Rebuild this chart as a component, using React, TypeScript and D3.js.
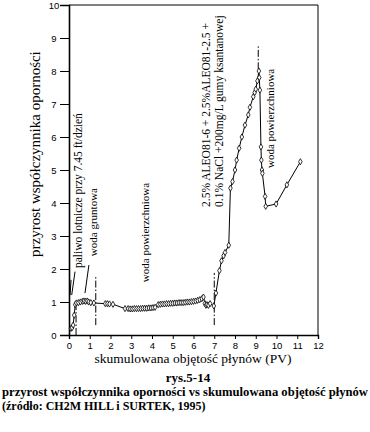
import * as d3 from 'd3'
import React from 'react'

// axis ticks
const pvTicks = [0, 1, 2, 3, 4, 5, 6, 7, 8, 9, 10, 11, 12]
const rfTicks = [0, 1, 2, 3, 4, 5, 6, 7, 8, 9, 10]

// phase 1: jet fuel
const jetFuelPV = [0.1, 0.15, 0.2, 0.25, 0.3, 0.35, 0.45, 0.55, 0.65, 0.72, 0.8, 0.88, 0.95, 1.05]
const jetFuelRF = [0.2, 0.22, 0.3, 0.6, 0.92, 0.97, 0.98, 1.0, 1.02, 1.03, 1.02, 1.03, 1.0, 0.98]
// phase 2: groundwater
const groundPV = [1.2, 1.75, 1.85, 1.95]
const groundRF = [0.97, 0.95, 0.95, 0.94]
// phase 3: surface water
const surface1PV = [2.12, 2.7, 2.85, 2.95, 3.05, 3.15, 3.25, 3.35, 3.45, 3.55, 3.65, 3.75, 3.85, 3.95, 4.05, 4.15,
    4.3, 4.4, 4.5, 4.6, 4.7, 4.8, 4.9, 5.0, 5.1, 5.2, 5.3, 5.4, 5.5, 5.6, 5.7, 5.8, 5.9, 6.0, 6.1, 6.2, 6.3, 6.4,
    6.48, 6.55, 6.6, 6.65, 6.72, 6.8, 6.98]
const surface1RF = [0.93, 0.8, 0.8, 0.79, 0.79, 0.8, 0.8, 0.8, 0.8, 0.81, 0.81, 0.81, 0.82, 0.82, 0.83, 0.84,
    0.92, 0.93, 0.94, 0.94, 0.95, 0.95, 0.96, 0.96, 0.97, 0.97, 0.98, 0.98, 0.98, 0.99, 1.0, 1.0, 1.01, 1.02, 1.03, 1.05, 1.07, 1.1,
    1.15, 0.95, 0.9, 0.92, 0.9, 0.95, 0.88]
// phase 4: polymer
const polymerPV = [7.08, 7.25, 7.35, 7.45, 7.52, 7.7, 7.78, 7.88, 8.0, 8.08, 8.2, 8.33, 8.48, 8.64, 8.72, 8.88, 8.95, 9.0, 9.08, 9.15]
const polymerRF = [1.27, 1.95, 2.25, 2.4, 2.5, 2.72, 4.45, 4.65, 5.0, 5.3, 5.66, 6.0, 6.36, 6.67, 6.9, 7.22, 7.35, 7.45, 7.7, 8.0]
// phase 5: surface water again
const surface2PV = [9.17, 9.2, 9.25, 9.27, 9.3, 9.32, 9.45, 9.48, 9.98, 10.5, 11.15]
const surface2RF = [7.8, 7.42, 5.7, 5.3, 5.0, 4.9, 4.2, 3.9, 3.97, 4.55, 5.25]

// dash-dot phase boundaries [pv, rfFrom, rfTo]
const boundaries = [[0.34, 0, 0.95], [1.29, 0.3, 1.8], [7.0, 0.3, 1.88], [9.12, 8.05, 8.8]]
// leader lines [pv1, rf1, pv2, rf2]
const leaders = [[0.05, 1.21, 0.1, 1.67], [0.13, 1.21, 0.29, 1.92], [0.77, 1.27, 0.96, 2.12]]

// rotated labels [text, pv, rf]
const labelTexts = ["paliwo lotnicze przy 7.45 ft/dzień", "woda gruntowa", "woda powierzchniowa",
    "2.5% ALEO81-6 + 2.5%ALEO81-2.5 +", "0.1% NaCl +200mg/L gumy ksantanowej", "woda powierzchniowa"]
const labelPV = [0.63, 1.33, 3.86, 6.8, 7.42, 9.88]
const labelRF = [2.03, 2.39, 1.6, 3.88, 3.88, 5.06]

export default function App(){
    const ref = React.useRef<SVGSVGElement>(null)

    React.useEffect(()=>{
        drawChart()
    }, [])

    function drawChart(){
        const svg = d3.select(ref.current)
        svg.selectAll("*").remove()

        const serif = "'Liberation Serif', 'Times New Roman', serif"
        const sans = "'Liberation Sans', Arial, sans-serif"

        const x = d3.scaleLinear().domain([0, 12]).range([69, 318])
        const y = d3.scaleLinear().domain([0, 10]).range([335, 5])

        svg.append("rect").attr("width", 370).attr("height", 432).attr("fill", "#fff")

        // frame
        svg.append("line").attr("x1", x(0)).attr("x2", x(12)).attr("y1", y(10)).attr("y2", y(10))
            .attr("stroke", "#000").attr("stroke-width", 1)
        svg.append("line").attr("x1", x(12)).attr("x2", x(12)).attr("y1", y(10)).attr("y2", y(0))
            .attr("stroke", "#000").attr("stroke-width", 1)

        // y axis
        const yAxis = svg.append("g").attr("transform", `translate(${x(0)},0)`)
            .call(d3.axisLeft(y).tickValues(rfTicks).tickSize(9).tickFormat(d3.format("d")))
        yAxis.select(".domain").attr("stroke-width", 1.6)
        yAxis.selectAll("text").attr("text-anchor", "middle").attr("x", -15)
            .style("font-family", sans).style("font-size", "9.5px")

        // x axis
        const xAxis = svg.append("g").attr("transform", `translate(0,${y(0)})`)
            .call(d3.axisBottom(x).tickValues(pvTicks).tickSize(4).tickPadding(3).tickFormat(d3.format("d")))
        xAxis.select(".domain").attr("stroke-width", 1.4)
        xAxis.selectAll("text").style("font-family", sans).style("font-size", "9.5px")

        // boundaries
        svg.selectAll(".boundary").data(boundaries).enter().append("line")
            .attr("class", "boundary")
            .attr("x1", d => x(d[0])).attr("x2", d => x(d[0]))
            .attr("y1", d => y(d[1])).attr("y2", d => y(d[2]))
            .attr("stroke", "#000").attr("stroke-width", 1)
            .attr("stroke-dasharray", "7,2,1.5,2")

        svg.selectAll(".leader").data(leaders).enter().append("line")
            .attr("class", "leader")
            .attr("x1", d => x(d[0])).attr("y1", d => y(d[1]))
            .attr("x2", d => x(d[2])).attr("y2", d => y(d[3]))
            .attr("stroke", "#000").attr("stroke-width", 1)

        // series
        const pv = [...jetFuelPV, ...groundPV, ...surface1PV, ...polymerPV, ...surface2PV]
        const rf = [...jetFuelRF, ...groundRF, ...surface1RF, ...polymerRF, ...surface2RF]
        const pts: [number, number][] = pv.map((v, i) => [v, rf[i]])

        const line = d3.line<[number, number]>().x(d => x(d[0])).y(d => y(d[1]))
        svg.append("path").attr("d", line(pts)).attr("fill", "none")
            .attr("stroke", "#000").attr("stroke-width", 1)

        const sym = d3.symbol().type(d3.symbolDiamond).size(11)
        svg.selectAll(".pt").data(pts).enter().append("path")
            .attr("class", "pt")
            .attr("d", sym())
            .attr("transform", d => `translate(${x(d[0])},${y(d[1])})`)
            .attr("fill", "#fff").attr("stroke", "#000").attr("stroke-width", 0.8)

        // rotated labels
        const fontSizes = [11.5, 11, 11, 11.5, 11.5, 11]
        labelTexts.forEach((t, i) => {
            svg.append("text")
                .attr("transform", `translate(${x(labelPV[i])},${y(labelRF[i])}) rotate(-90)`)
                .style("font-family", serif).style("font-size", fontSizes[i] + "px")
                .text(t)
        })

        // axis titles
        svg.append("text")
            .attr("transform", `translate(40,257) rotate(-90)`)
            .style("font-family", serif).style("font-size", "15px")
            .text("przyrost współczynnika oporności")
        svg.append("text")
            .attr("x", 193).attr("y", 363).attr("text-anchor", "middle")
            .style("font-family", serif).style("font-size", "13.5px")
            .text("skumulowana objętość płynów (PV)")

        // caption
        svg.append("text")
            .attr("x", 188).attr("y", 382).attr("text-anchor", "middle")
            .style("font-family", serif).style("font-size", "13px").style("font-weight", "bold")
            .text("rys.5-14")
        svg.append("text")
            .attr("x", 2).attr("y", 396)
            .attr("textLength", 366).attr("lengthAdjust", "spacingAndGlyphs")
            .style("font-family", serif).style("font-size", "12.5px").style("font-weight", "bold")
            .text("przyrost współczynnika oporności vs skumulowana objętość płynów")
        svg.append("text")
            .attr("x", 2).attr("y", 410)
            .style("font-family", serif).style("font-size", "12px").style("font-weight", "bold")
            .text("(źródło: CH2M HILL i SURTEK, 1995)")
    }

    return(
        <svg ref={ref} width={370} height={432} style={{position: "absolute", left: 0, top: 0}}></svg>
    )
}
